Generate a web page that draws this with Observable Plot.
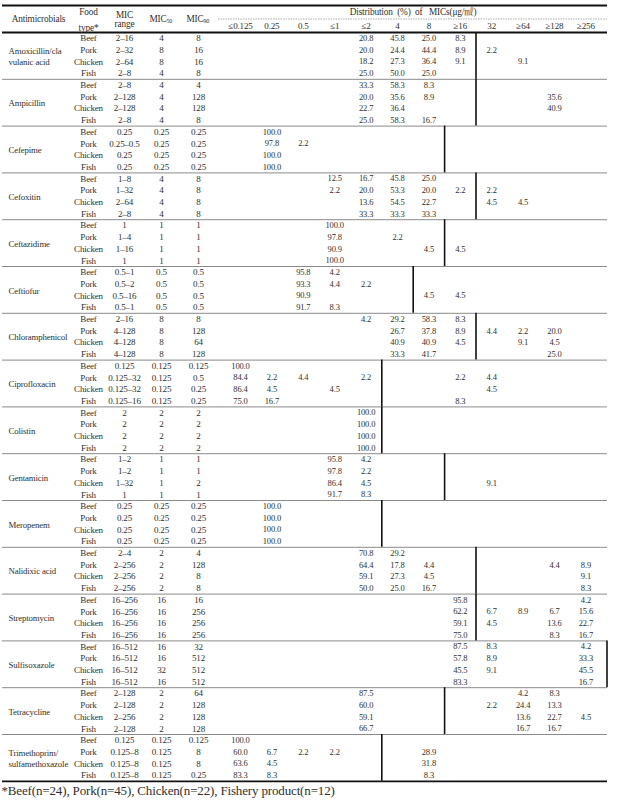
<!DOCTYPE html>
<html><head><meta charset="utf-8">
<script src="https://cdn.jsdelivr.net/npm/d3@7"></script>
<script src="https://cdn.jsdelivr.net/npm/@observablehq/plot@0.6"></script>
<style>
body{margin:0;background:#fff}
svg text{letter-spacing:-0.15px}
</style>
</head><body><div id="chart"></div>
<script>
// ---------- data ----------
const antimicrobials = ["Amoxicillin/cla\nvulanic acid","Ampicillin","Cefepime","Cefoxitin","Ceftazidime","Ceftiofur","Chloramphenicol","Ciprofloxacin","Colistin","Gentamicin","Meropenem","Nalidixic acid","Streptomycin","Sulfisoxazole","Tetracycline","Trimethoprim/\nsulfamethoxazole"];
const foodTypes = ["Beef","Pork","Chicken","Fish"];
const micRange = [
 "2–16","2–32","2–64","2–8",
 "2–8","2–128","2–128","2–8",
 "0.25","0.25–0.5","0.25","0.25",
 "1–8","1–32","2–64","2–8",
 "1","1–4","1–16","1",
 "0.5–1","0.5–2","0.5–16","0.5–1",
 "2–16","4–128","4–128","4–128",
 "0.125","0.125–32","0.125–32","0.125–16",
 "2","2","2","2",
 "1–2","1–2","1–32","1",
 "0.25","0.25","0.25","0.25",
 "2–4","2–256","2–256","2–256",
 "16–256","16–256","16–256","16–256",
 "16–512","16–512","16–512","16–512",
 "2–128","2–128","2–256","2–128",
 "0.125","0.125–8","0.125–8","0.125–8"];
const mic50 = [
 "4","8","8","4", "4","4","4","4", "0.25","0.25","0.25","0.25", "4","4","4","4",
 "1","1","1","1", "0.5","0.5","0.5","0.5", "8","8","8","8", "0.125","0.125","0.125","0.125",
 "2","2","2","2", "1","1","1","1", "0.25","0.25","0.25","0.25", "2","2","2","2",
 "16","16","16","16", "16","16","32","16", "2","2","2","2", "0.125","0.125","0.125","0.125"];
const mic90 = [
 "8","16","16","8", "4","128","128","8", "0.25","0.25","0.25","0.25", "8","8","8","8",
 "1","1","1","1", "0.5","0.5","0.5","0.5", "8","128","64","128", "0.125","0.5","0.25","0.25",
 "2","2","2","2", "1","1","2","1", "0.25","0.25","0.25","0.25", "4","128","8","8",
 "16","256","256","256", "32","512","512","512", "64","128","128","128", "0.125","8","8","0.25"];
const distCols = ["≤0.125","0.25","0.5","≤1","≤2","4","8","≥16","32","≥64","≥128","≥256"];
const distribution = [
 ",,,,20.8,45.8,25.0,8.3,,,,", ",,,,20.0,24.4,44.4,8.9,2.2,,,", ",,,,18.2,27.3,36.4,9.1,,9.1,,", ",,,,25.0,50.0,25.0,,,,,",
 ",,,,33.3,58.3,8.3,,,,,", ",,,,20.0,35.6,8.9,,,,35.6,", ",,,,22.7,36.4,,,,,40.9,", ",,,,25.0,58.3,16.7,,,,,",
 ",100.0,,,,,,,,,,", ",97.8,2.2,,,,,,,,,", ",100.0,,,,,,,,,,", ",100.0,,,,,,,,,,",
 ",,,12.5,16.7,45.8,25.0,,,,,", ",,,2.2,20.0,53.3,20.0,2.2,2.2,,,", ",,,,13.6,54.5,22.7,,4.5,4.5,,", ",,,,33.3,33.3,33.3,,,,,",
 ",,,100.0,,,,,,,,", ",,,97.8,,2.2,,,,,,", ",,,90.9,,,4.5,4.5,,,,", ",,,100.0,,,,,,,,",
 ",,95.8,4.2,,,,,,,,", ",,93.3,4.4,2.2,,,,,,,", ",,90.9,,,,4.5,4.5,,,,", ",,91.7,8.3,,,,,,,,",
 ",,,,4.2,29.2,58.3,8.3,,,,", ",,,,,26.7,37.8,8.9,4.4,2.2,20.0,", ",,,,,40.9,40.9,4.5,,9.1,4.5,", ",,,,,33.3,41.7,,,,25.0,",
 "100.0,,,,,,,,,,,", "84.4,2.2,4.4,,2.2,,,2.2,4.4,,,", "86.4,4.5,,4.5,,,,,4.5,,,", "75.0,16.7,,,,,,8.3,,,,",
 ",,,,100.0,,,,,,,", ",,,,100.0,,,,,,,", ",,,,100.0,,,,,,,", ",,,,100.0,,,,,,,",
 ",,,95.8,4.2,,,,,,,", ",,,97.8,2.2,,,,,,,", ",,,86.4,4.5,,,,9.1,,,", ",,,91.7,8.3,,,,,,,",
 ",100.0,,,,,,,,,,", ",100.0,,,,,,,,,,", ",100.0,,,,,,,,,,", ",100.0,,,,,,,,,,",
 ",,,,70.8,29.2,,,,,,", ",,,,64.4,17.8,4.4,,,,4.4,8.9", ",,,,59.1,27.3,4.5,,,,,9.1", ",,,,50.0,25.0,16.7,,,,,8.3",
 ",,,,,,,95.8,,,,4.2", ",,,,,,,62.2,6.7,8.9,6.7,15.6", ",,,,,,,59.1,4.5,,13.6,22.7", ",,,,,,,75.0,,,8.3,16.7",
 ",,,,,,,87.5,8.3,,,4.2", ",,,,,,,57.8,8.9,,,33.3", ",,,,,,,45.5,9.1,,,45.5", ",,,,,,,83.3,,,,16.7",
 ",,,,87.5,,,,,4.2,8.3,", ",,,,60.0,,,,2.2,24.4,13.3,", ",,,,59.1,,,,,13.6,22.7,4.5", ",,,,66.7,,,,,16.7,16.7,",
 "100.0,,,,,,,,,,,", "60.0,6.7,2.2,2.2,,,28.9,,,,,", "63.6,4.5,,,,,31.8,,,,,", "83.3,8.3,,,,,8.3,,,,,"];
// breakpoint: index of first distribution column right of the thick vertical line, per antimicrobial
const breakpointCol = [8,8,7,8,7,6,8,5,5,7,5,8,8,12,7,5];
const headerTitle = "Distribution  (%)  of   MICs(μg/㎖)";
const footnote = "*Beef(n=24), Pork(n=45), Chicken(n=22), Fishery product(n=12)";

// ---------- layout ----------
const W = 620, H = 806;
const HEAD = 32, ROW = 11.70;          // header rule pixel, row height
const py = p => (p - HEAD) / ROW;      // pixel -> row units
const X = {name: 8, food: 88, range: 124, mic50: 161, mic90: 198, d0: 240, dstep: 31.4, left: 2, right: 607, dashL: 218};
const dx = k => X.d0 + X.dstep * k;
const nG = antimicrobials.length, nR = nG * 4;
const nameSize = 8.8;

// ---------- derived tables ----------
const rows = d3.range(nR).map(i => ({
  i, y: i + 0.5, food: foodTypes[i % 4], range: micRange[i], m50: mic50[i], m90: mic90[i]
}));
const cells = [];
distribution.forEach((s, i) => s.split(",").forEach((v, k) => { if (v) cells.push({x: dx(k), y: i + 0.5, v}); }));
const groups = antimicrobials.map((name, g) => ({name, y: g * 4 + 2, y1: g * 4, y2: g * 4 + 4,
  bx: breakpointCol[g] >= 12 ? X.right - 0.5 : dx(breakpointCol[g] - 0.5)}));
const seps = d3.range(1, nG).map(g => ({y: g * 4}));
const thick = [{y: py(5)}, {y: 0}, {y: nR}];
const colHead = distCols.map((c, k) => ({x: dx(k), c}));

const font = "'Liberation Serif','DejaVu Serif','Noto Serif CJK KR','Noto Sans CJK KR',serif";
const ink = "#303030";

const chart = Plot.plot({
  width: W, height: H, margin: 0,
  x: {domain: [0, W], range: [0, W], axis: null},
  y: {domain: [py(0), py(H)], range: [0, H], axis: null},
  style: {fontFamily: font, background: "#fff", color: ink},
  marks: [
    Plot.ruleY(seps, {y: "y", x1: X.left, x2: X.right, stroke: "#8a8a8a", strokeWidth: 1}),
    Plot.ruleY([{y: py(18.5)}], {y: "y", x1: X.dashL, x2: X.right, stroke: "#999", strokeWidth: 0.8, strokeDasharray: "1.5,1"}),
    Plot.ruleY(thick, {y: "y", x1: X.left, x2: X.right, stroke: "#111", strokeWidth: 1.8}),
    Plot.ruleX(groups, {x: "bx", y1: "y1", y2: "y2", stroke: "#111", strokeWidth: 1.6}),
    // header
    Plot.text(["Antimicrobials"], {x: 38, y: py(19), text: d => d, fontSize: 9.3, fill: ink}),
    Plot.text(["Food"], {x: X.food, y: py(12), text: d => d, fontSize: 9.3, fill: ink}),
    Plot.text(["type*"], {x: X.food, y: py(27.5), text: d => d, fontSize: 9.3, fill: ink}),
    Plot.text(["MIC"], {x: X.range, y: py(14.5), text: d => d, fontSize: 9.3, fill: ink}),
    Plot.text(["range"], {x: X.range, y: py(23.5), text: d => d, fontSize: 9.3, fill: ink}),
    Plot.text(["MIC", "MIC"], {x: (d, i) => [X.mic50, X.mic90][i] + 5, y: py(19), text: d => d, textAnchor: "end", fontSize: 9.3, fill: ink}),
    Plot.text(["50", "90"], {x: (d, i) => [X.mic50, X.mic90][i] + 5, y: py(21), text: d => d, textAnchor: "start", fontSize: 6, fill: ink}),
    Plot.text([headerTitle], {x: (X.dashL + X.right) / 2, y: py(12), text: d => d, fontSize: 9.3, fill: ink}),
    Plot.text(colHead, {x: "x", y: py(25.5), text: "c", fontSize: 9, fill: ink}),
    // body
    Plot.text(groups, {x: X.name, y: "y", text: "name", textAnchor: "start", fontSize: nameSize, lineHeight: ROW / nameSize, fill: ink}),
    Plot.text(rows, {x: X.food, y: "y", text: "food", fontSize: 9, fill: ink}),
    Plot.text(rows, {x: X.range, y: "y", text: "range", fontSize: 9, fill: ink}),
    Plot.text(rows, {x: X.mic50, y: "y", text: "m50", fontSize: 9, fill: ink}),
    Plot.text(rows, {x: X.mic90, y: "y", text: "m90", fontSize: 9, fill: ink}),
    Plot.text(cells, {x: "x", y: "y", text: "v", fontSize: 8.5, fill: ink}),
    // footnote
    Plot.text([footnote], {x: 1, y: py(790), text: d => d, textAnchor: "start", fontSize: 13, fill: ink})
  ]
});
document.getElementById("chart").append(chart);
</script>
</body></html>
